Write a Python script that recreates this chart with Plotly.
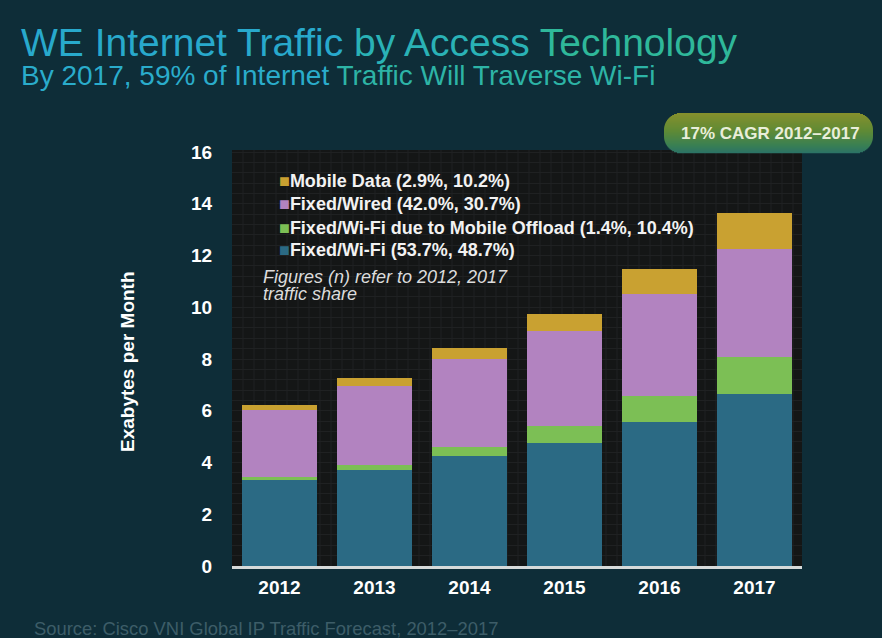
import plotly.graph_objects as go

# ---- data (Exabytes per month) ----
years = ["2012", "2013", "2014", "2015", "2016", "2017"]
fixed_wifi = [3.34, 3.73, 4.25, 4.76, 5.57, 6.66]
wifi_offload = [0.09, 0.17, 0.36, 0.65, 1.01, 1.42]
fixed_wired = [2.61, 3.05, 3.38, 3.66, 3.92, 4.19]
mobile_data = [0.18, 0.30, 0.44, 0.66, 0.99, 1.39]

series_names = [
    "Fixed/Wi-Fi (53.7%, 48.7%)",
    "Fixed/Wi-Fi due to Mobile Offload (1.4%, 10.4%)",
    "Fixed/Wired (42.0%, 30.7%)",
    "Mobile Data (2.9%, 10.2%)",
]
series_values = [fixed_wifi, wifi_offload, fixed_wired, mobile_data]
series_colors = ["#2b6a84", "#7cbf55", "#b283c0", "#c9a131"]

y_ticks = [0, 2, 4, 6, 8, 10, 12, 14, 16]

# ---- layout geometry (pixels) ----
W, H = 882, 638
L, R, T, B = 232, 802, 150, 566
PW, PH = R - L, B - T
FONT = "Liberation Sans, Arial, sans-serif"


def px(x):
    return (x - L) / PW


def py(y):
    return (B - y) / PH


BG = "#0e2d38"
PANEL = "#141616"
TEXTURE = "#1f2122"

fig = go.Figure()
for name, vals, col in zip(series_names, series_values, series_colors):
    fig.add_trace(go.Bar(x=years, y=vals, name=name, marker=dict(color=col, line=dict(width=0))))

annotations = []

# Title & subtitle
annotations.append(dict(
    text='<span style="color:#28a9cc">WE Internet Traffic </span>'
         '<span style="color:#2ab2b6">by Access </span>'
         '<span style="color:#2fb89a">Technology</span>',
    x=px(19), y=py(43), xref="paper", yref="paper", xanchor="left", yanchor="middle",
    showarrow=False, font=dict(family=FONT, size=39)))
annotations.append(dict(
    text='<span style="color:#2aaccb">By 2017, 59% of Internet </span>'
         '<span style="color:#2db4a6">Traffic Will Traverse Wi-Fi</span>',
    x=px(19), y=py(76), xref="paper", yref="paper", xanchor="left", yanchor="middle",
    showarrow=False, font=dict(family=FONT, size=28)))

# Legend (custom rows, top to bottom)
legend_rows = [3, 2, 1, 0]
legend_y = [181, 204, 228, 250]
for idx, yy in zip(legend_rows, legend_y):
    annotations.append(dict(
        text=f'<b><span style="color:{series_colors[idx]}">■</span>{series_names[idx]}</b>',
        x=px(277), y=py(yy), xref="paper", yref="paper", xanchor="left", yanchor="middle",
        showarrow=False, font=dict(family=FONT, size=18, color="#f2f2f2"),
    ))
for txt, yy in [("<i>Figures (n) refer to 2012, 2017</i>", 277), ("<i>traffic share</i>", 294)]:
    annotations.append(dict(
        text=txt, x=px(261), y=py(yy), xref="paper", yref="paper", xanchor="left", yanchor="middle",
        showarrow=False, font=dict(family=FONT, size=18, color="#dcdcdc")))

# Y-axis title
annotations.append(dict(
    text="<b>Exabytes per Month</b>", x=px(127), y=py(362), xref="paper", yref="paper",
    xanchor="center", yanchor="middle", textangle=-90, showarrow=False,
    font=dict(family=FONT, size=19, color="#ffffff")))

# CAGR badge text
annotations.append(dict(
    text="<b>17% CAGR 2012–2017</b>", x=px(770), y=py(133), xref="paper", yref="paper",
    xanchor="center", yanchor="middle", showarrow=False,
    font=dict(family=FONT, size=17, color="#e9eed9")))

# Source
annotations.append(dict(
    text="Source: Cisco VNI Global IP Traffic Forecast, 2012–2017", x=px(32), y=py(628),
    xref="paper", yref="paper", xanchor="left", yanchor="middle", showarrow=False,
    font=dict(family=FONT, size=18.4, color="#3d5d68")))

shapes = []

# Panel texture (vertical hairlines)
xv = L + 11
while xv < R:
    shapes.append(dict(type="line", xref="paper", yref="paper", x0=px(xv), x1=px(xv), y0=0, y1=1,
                       line=dict(color=TEXTURE, width=1), layer="below"))
    xv += 11

# CAGR badge: pill with vertical gradient built from thin stripes
bx0, bx1, by0, by1, rad = 664, 873, 113, 153, 17


def hex2rgb(h):
    h = h.lstrip("#")
    return tuple(int(h[i:i + 2], 16) for i in (0, 2, 4))


stops = [(0.0, "#86902c"), (0.45, "#5f8a35"), (0.8, "#3a8052"), (1.0, "#2b7266")]


def grad(t):
    for (t0, c0), (t1, c1) in zip(stops[:-1], stops[1:]):
        if t0 <= t <= t1:
            f = (t - t0) / (t1 - t0)
            a, b = hex2rgb(c0), hex2rgb(c1)
            return "rgb(%d,%d,%d)" % tuple(round(a[i] + (b[i] - a[i]) * f) for i in range(3))
    return stops[-1][1]


step = 1.0
yy = by0
while yy < by1 - 1e-9:
    ymid = yy + step / 2
    if ymid < by0 + rad:
        dy = by0 + rad - ymid
    elif ymid > by1 - rad:
        dy = ymid - (by1 - rad)
    else:
        dy = 0.0
    inset = rad - (max(rad * rad - dy * dy, 0.0)) ** 0.5
    shapes.append(dict(type="rect", xref="paper", yref="paper",
                       x0=px(bx0 + inset), x1=px(bx1 - inset), y0=py(yy), y1=py(yy + step + 0.3),
                       fillcolor=grad((ymid - by0) / (by1 - by0)), line=dict(width=0), layer="above"))
    yy += step

fig.update_layout(
    width=W, height=H,
    margin=dict(l=L, r=W - R, t=T, b=H - B, pad=0),
    paper_bgcolor=BG, plot_bgcolor=PANEL,
    barmode="stack", bargap=0.22, showlegend=False,
    font=dict(family=FONT, color="#ffffff"),
    xaxis=dict(
        type="category", range=[-0.5, 5.5], showgrid=False, zeroline=False,
        showline=True, linecolor="#d6dada", linewidth=3,
        ticks="outside", ticklen=2, tickcolor="rgba(0,0,0,0)",
        tickfont=dict(size=19, color="#ffffff", family=FONT, weight="bold"),
        fixedrange=True,
    ),
    yaxis=dict(
        range=[0, 16.08], tickvals=y_ticks, showgrid=False, zeroline=False, showline=False,
        ticks="outside", ticklen=15, tickcolor="rgba(0,0,0,0)",
        tickfont=dict(size=19, color="#ffffff", family=FONT, weight="bold"),
        minor=dict(dtick=0.4, showgrid=True, gridcolor=TEXTURE, gridwidth=1, ticks=""),
        fixedrange=True,
    ),
    annotations=annotations,
    shapes=shapes,
)

fig.write_html(
    "out.html",
    config={"displayModeBar": False},
    post_script="document.body.style.margin='0';document.body.style.background='%s';"
                "document.documentElement.style.overflow='hidden';" % BG,
)
